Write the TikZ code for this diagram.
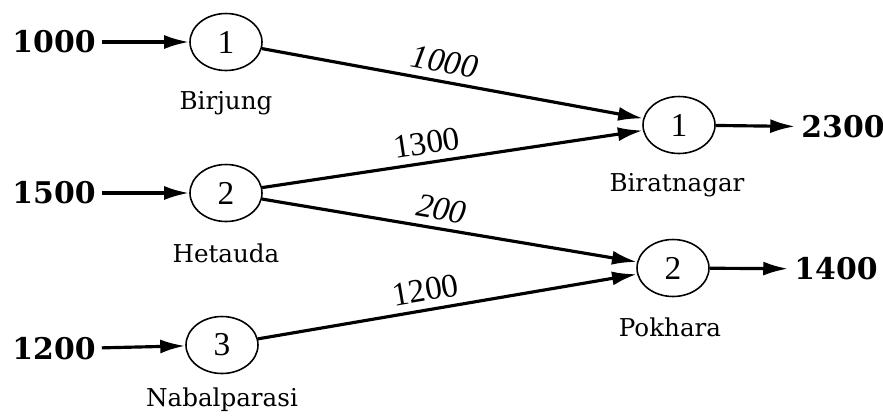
\documentclass[tikz,border=0pt]{standalone}
\usepackage{fontspec}
\setmainfont{Liberation Serif}
\newfontfamily\placefont{DejaVu Serif}
\usetikzlibrary{shapes.geometric,arrows.meta}
\tikzset{
  town/.style={ellipse,draw,line width=0.9pt,minimum width=1.44cm,minimum height=1.14cm,inner sep=0pt,font=\fontsize{19}{19}\selectfont},
  flow/.style={-{Latex[length=5mm,width=2.8mm]},line width=1.8pt},
  amount/.style={font=\placefont\bfseries\fontsize{17}{17}\selectfont},
  place/.style={font=\placefont\fontsize{14}{14}\selectfont},
  cost/.style={sloped,above=3pt,inner sep=1pt,font=\fontsize{19}{19}\selectfont},
}
\begin{document}
\begin{tikzpicture}[x=0.02cm,y=-0.02cm]
    \useasboundingbox (0,0) rectangle (883,417);

    % sources
    \node (s1) at (226,42) [town] {1};
    \node (s2) at (226,193) [town] {2};
    \node (s3) at (222,345) [town] {3};

    % destinations
    \node (d1) at (679,125) [town] {1};
    \node (d2) at (673,268) [town] {2};

    % supply and demand
    \node (in1) at (54,42) [amount] {1000};
    \node (in2) at (54,193) [amount] {1500};
    \node (in3) at (54,349) [amount] {1200};
    \node (out1) at (843,127) [amount] {2300};
    \node (out2) at (836,269) [amount] {1400};

    \path [flow]
        (in1) edge (s1)
        (in2) edge (s2)
        (in3) edge (s3)
        (d1) edge (out1)
        (d2) edge (out2)
    ;

    \draw [flow] (s1) -- node [cost,pos=0.47] {\itshape 1000} (d1);
    \draw [flow] (s2) -- node [cost,pos=0.44] {1300} (d1);
    \draw [flow] (s2) -- node [cost,pos=0.47] {\itshape 200} (d2);
    \draw [flow] (s3) -- node [cost,pos=0.45] {1200} (d2);

    \node (s1name) at (226,103) [place] {Birjung};
    \node (s2name) at (226,253) [place] {Hetauda};
    \node (s3name) at (222,400) [place] {Nabalparasi};
    \node (d1name) at (677,185) [place] {Biratnagar};
    \node (d2name) at (670,327) [place] {Pokhara};
\end{tikzpicture}
\end{document}
